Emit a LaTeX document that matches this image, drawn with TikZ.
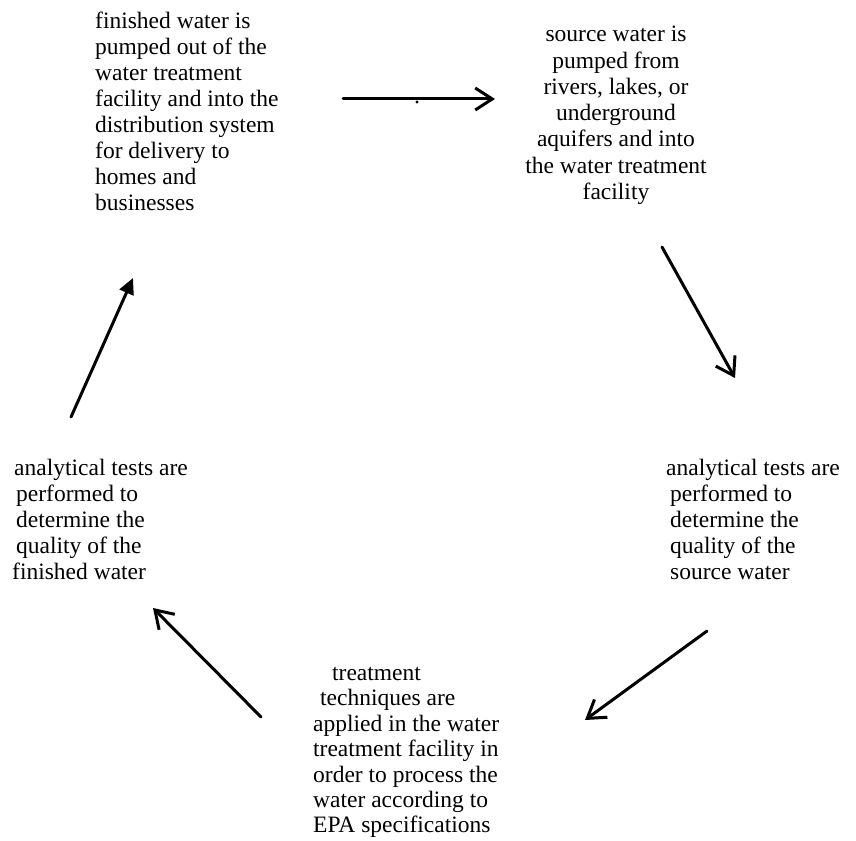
\documentclass[tikz,border=0pt]{standalone}
\usepackage{fontspec}
\setmainfont{Liberation Serif}
\usetikzlibrary{arrows.meta}
\begin{document}
\begin{tikzpicture}[x=1pt,y=-1pt,
  txt/.style={inner sep=0pt,font=\fontsize{23.5}{26}\selectfont},
  conn/.style={line width=3pt,line cap=round},
  barb/.style={-{Straight Barb[length=17pt,width=22pt,line width=3pt]}},
  tri/.style={-{Triangle[length=16pt,width=15pt]}}]
\useasboundingbox (0,0) rectangle (856,840);
% text blocks
\node[txt,anchor=north west,align=left] (out) at (95,12)
  {finished water is\\pumped out of the\\water treatment\\facility and into the\\distribution system\\for delivery to\\homes and\\businesses};
\node[txt,anchor=north,align=center,font=\fontsize{23.5}{26.3}\selectfont] (src) at (616,26)
  {source water is\\pumped from\\rivers, lakes, or\\underground\\aquifers and into\\the water treatment\\facility};
\node[txt,anchor=north west,align=left] (testsrc) at (666,459)
  {analytical tests are\\\hspace*{4pt}performed to\\\hspace*{4pt}determine the\\\hspace*{4pt}quality of the\\\hspace*{4pt}source water};
\node[txt,anchor=north west,align=left] (testfin) at (14,459)
  {analytical tests are\\\hspace*{2pt}performed to\\\hspace*{2pt}determine the\\\hspace*{2pt}quality of the\\\hspace*{-2pt}finished water};
\node[txt,anchor=north west,align=left,font=\fontsize{23.5}{25.4}\selectfont] (treat) at (313,667)
  {\hspace*{19pt}treatment\\\hspace*{7pt}techniques are\\applied in the water\\treatment facility in\\order to process the\\water according to\\EPA specifications};
% connector end points
\coordinate (a1s) at (343,99);  \coordinate (a1e) at (495,99);
\coordinate (a2s) at (662,247); \coordinate (a2e) at (735,378);
\coordinate (a3s) at (707,631); \coordinate (a3e) at (585,720);
\coordinate (a4s) at (261,717); \coordinate (a4e) at (153,608);
\coordinate (a5s) at (71,417);  \coordinate (a5e) at (133,278);
\coordinate (dot) at (417,102);
% connectors
\draw[conn,barb] (a1s) -- (a1e);
\draw[conn,barb] (a2s) -- (a2e);
\draw[conn,barb] (a3s) -- (a3e);
\draw[conn,barb] (a4s) -- (a4e);
\draw[conn,tri] (a5s) -- (a5e);
\fill (dot) circle (1.7);
\end{tikzpicture}
\end{document}
